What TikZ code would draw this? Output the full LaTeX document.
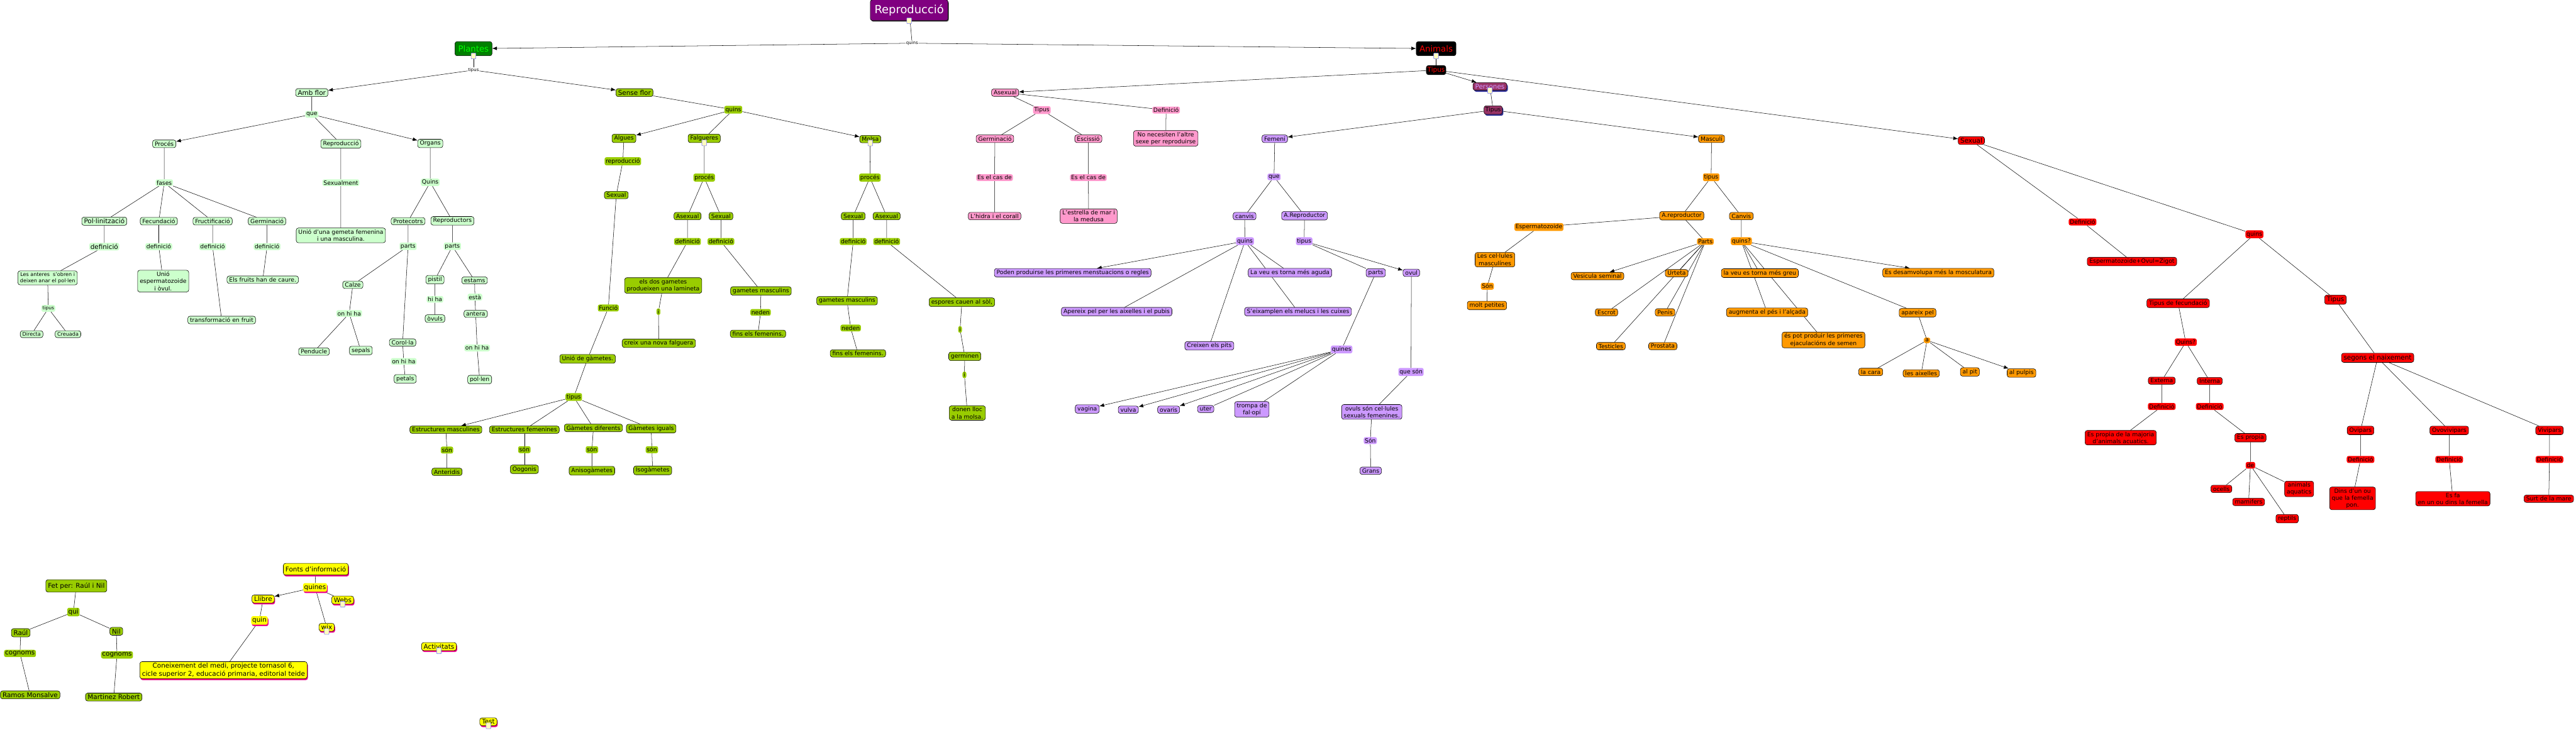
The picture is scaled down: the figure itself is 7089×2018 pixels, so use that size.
\documentclass[tikz,border=0pt]{standalone}
\usepackage{fontspec}
\setmainfont{DejaVu Sans}
\usetikzlibrary{arrows.meta,backgrounds,shadows}

\definecolor{cmgreen}{HTML}{CCFFCC}
\definecolor{cmolive}{HTML}{99CC00}
\definecolor{cmpink}{HTML}{FF99CC}
\definecolor{cmlilac}{HTML}{CC99FF}
\definecolor{cmorange}{HTML}{FF9900}
\definecolor{cmred}{HTML}{FF0000}
\definecolor{cmyellow}{HTML}{FFFF00}
\definecolor{cmplant}{HTML}{008000}
\definecolor{cmplanttext}{HTML}{00FF00}
\definecolor{cmmaroon}{HTML}{993366}
\definecolor{cmnavy}{HTML}{333399}
\definecolor{cmpurple}{HTML}{800080}

\begin{document}
\begin{tikzpicture}[
    x=1pt, y=-1pt,
    >={Latex[length=13pt,width=10pt]},
    concept/.style={
        rectangle,
        rounded corners=6pt,
        draw=black,
        line width=1pt,
        fill=#1,
        inner xsep=6pt,
        inner ysep=4pt,
        font=\fontsize{16}{19.5}\selectfont,
        align=center
    },
    phrase/.style={
        rectangle,
        rounded corners=5pt,
        fill=#1,
        inner xsep=3pt,
        inner ysep=3pt,
        font=\fontsize{16}{19.5}\selectfont
    },
    plain/.style={
        fill=white,
        inner sep=1pt,
        font=\fontsize{12}{14}\selectfont
    },
    big/.style={font=\fontsize{18}{21.5}\selectfont},
    small/.style={font=\fontsize{14}{17}\selectfont},
    pinkshadow/.style={drop shadow={fill=magenta,opacity=1,shadow xshift=2pt,shadow yshift=-4pt}},
    navyshadow/.style={drop shadow={fill=cmnavy,opacity=1,shadow xshift=3pt,shadow yshift=-4pt}},
    docicon/.style={
        rectangle,
        rounded corners=1.5pt,
        draw=blue!55,
        line width=1pt,
        fill=yellow!25,
        minimum width=13pt,
        minimum height=16pt,
        inner sep=0pt
    },
    link/.style={line width=0.9pt},
    flow/.style={->,line width=0.9pt}
]
\useasboundingbox (0,0) rectangle (7089,2018);

% Root and first split
\node[concept=cmpurple, text=white, font=\fontsize{31}{36}\selectfont, minimum width=214pt, minimum height=57pt,
      drop shadow={fill=black!75,opacity=1,shadow xshift=2pt,shadow yshift=-3pt}] (repro) at (2502,28) {Reproducció};
\node[plain] (q0) at (2510,119) {quins};
\node[concept=cmplant, text=cmplanttext, font=\fontsize{23}{27}\selectfont, inner xsep=9pt, minimum height=39pt] (plantes) at (1303,134) {Plantes};
\node[concept=black, text=cmred, font=\fontsize{23}{27}\selectfont, inner xsep=9pt, minimum height=39pt] (animals) at (3952,134) {Animals};
\node[plain] (t0) at (1303,193) {tipus};

% Plants with flower
\node[concept=cmgreen, big] (ambflor) at (858,255) {Amb flor};
\node[phrase=cmgreen] (que1) at (858,315) {que};
\node[concept=cmgreen] (proces) at (452,396) {Procés};
\node[concept=cmgreen] (reprod) at (938,396) {Reproducció};
\node[concept=cmgreen] (organs) at (1184,395) {Organs};
\node[phrase=cmgreen] (fases) at (452,503) {fases};
\node[phrase=cmgreen] (sexualment) at (938,503) {Sexualment};
\node[phrase=cmgreen] (quinsO) at (1184,502) {Quins};
\node[concept=cmgreen, big] (pollin) at (287,609) {Pol·linització};
\node[concept=cmgreen] (fecund) at (437,609) {Fecundació};
\node[concept=cmgreen] (fruct) at (585,609) {Fructificació};
\node[concept=cmgreen] (germ) at (735,609) {Germinació};
\node[concept=cmgreen] (unio1) at (938,648) {Unió d'una gemeta femenina\\i una masculina.};
\node[concept=cmgreen] (protec) at (1123,609) {Protecotrs};
\node[concept=cmgreen] (reprods) at (1245,608) {Reproductors};
\node[phrase=cmgreen, big] (def1) at (287,679) {definició};
\node[phrase=cmgreen] (def2) at (437,679) {definició};
\node[phrase=cmgreen] (def3) at (585,679) {definició};
\node[phrase=cmgreen] (def4) at (735,679) {definició};
\node[phrase=cmgreen] (partsP) at (1123,678) {parts};
\node[phrase=cmgreen] (partsR) at (1245,678) {parts};
\node[concept=cmgreen, small] (anteres) at (131,765) {Les anteres\ \ s'obren i\\deixen anar el pol·len};
\node[concept=cmgreen] (unio2) at (449,774) {Unió\\espermatozoide\\i òvul.};
\node[concept=cmgreen] (fruits) at (723,770) {Els fruits han de caure.};
\node[concept=cmgreen] (calze) at (971,784) {Calze};
\node[concept=cmgreen] (pistil) at (1197,770) {pistil};
\node[concept=cmgreen] (estams) at (1306,772) {estams};
\node[phrase=cmgreen, font=\fontsize{13}{15}\selectfont] (tipusP) at (133,849) {tipus};
\node[concept=cmgreen] (transf) at (610,881) {transformació en fruit};
\node[phrase=cmgreen] (onhiha1) at (961,863) {on hi ha};
\node[phrase=cmgreen] (hiha) at (1197,824) {hi ha};
\node[phrase=cmgreen] (esta) at (1307,818) {està};
\node[concept=cmgreen] (ovuls) at (1197,877) {òvuls};
\node[concept=cmgreen] (antera) at (1309,864) {antera};
\node[concept=cmgreen, small] (directa) at (87,920) {Directa};
\node[concept=cmgreen, small] (creuada) at (187,920) {Creuada};
\node[concept=cmgreen] (penducle) at (864,968) {Penducle};
\node[concept=cmgreen] (sepals) at (993,965) {sepals};
\node[concept=cmgreen] (corolla) at (1108,943) {Corol·la};
\node[phrase=cmgreen] (onhiha2) at (1111,995) {on hi ha};
\node[concept=cmgreen] (petals) at (1115,1043) {petals};
\node[phrase=cmgreen] (onhiha3) at (1313,958) {on hi ha};
\node[concept=cmgreen] (pollen) at (1320,1045) {pol·len};

% Plants without flower
\node[concept=cmolive, big] (senseflor) at (1746,255) {Sense flor};
\node[phrase=cmolive] (quinsS) at (2018,302) {quins};
\node[concept=cmolive] (algues) at (1717,381) {Algues};
\node[concept=cmolive] (falg) at (1938,381) {Falgueres};
\node[concept=cmolive] (molsa) at (2395,383) {Molsa};
\node[phrase=cmolive] (reprA) at (1714,444) {reproducció};
\node[phrase=cmolive] (procF) at (1938,489) {procés};
\node[phrase=cmolive] (procM) at (2394,489) {procés};
\node[concept=cmolive] (sexA) at (1696,537) {Sexual};
\node[concept=cmolive] (asexF) at (1892,595) {Asexual};
\node[concept=cmolive] (sexF) at (1984,595) {Sexual};
\node[concept=cmolive] (sexM) at (2348,595) {Sexual};
\node[concept=cmolive] (asexM) at (2440,595) {Asexual};
\node[phrase=cmolive] (defF1) at (1892,665) {definició};
\node[phrase=cmolive] (defF2) at (1984,665) {definició};
\node[phrase=cmolive] (defM1) at (2348,665) {definició};
\node[phrase=cmolive] (defM2) at (2440,665) {definició};
\node[concept=cmolive] (dosgam) at (1825,786) {els dos gametes\\produeixen una lamineta};
\node[concept=cmolive] (gamF) at (2094,801) {gametes masculins};
\node[concept=cmolive] (gamM) at (2331,828) {gametes masculins};
\node[concept=cmolive] (espores) at (2647,832) {espores cauen al sòl,};
\node[phrase=cmolive] (funcio) at (1674,848) {Funció};
\node[phrase=cmolive] (iF) at (1812,858) {i};
\node[phrase=cmolive] (nedenF) at (2093,860) {neden};
\node[phrase=cmolive] (nedenM) at (2341,903) {neden};
\node[phrase=cmolive] (iM1) at (2642,907) {i};
\node[concept=cmolive] (finsF) at (2086,919) {fins els femenins.};
\node[concept=cmolive] (creix) at (1813,945) {creix una nova falguera};
\node[concept=cmolive] (finsM) at (2361,973) {fins els femenins.};
\node[concept=cmolive] (germinen) at (2655,981) {germinen};
\node[concept=cmolive] (uniogam) at (1617,988) {Unió de gàmetes.};
\node[phrase=cmolive] (iM2) at (2654,1032) {i};
\node[phrase=cmolive] (tipusA) at (1579,1093) {tipus};
\node[concept=cmolive] (donen) at (2662,1137) {donen lloc\\a la molsa.};
\node[concept=cmolive] (estmasc) at (1227,1183) {Estructures masculines};
\node[concept=cmolive] (estfem) at (1443,1183) {Estructures femenines};
\node[concept=cmolive] (gamdif) at (1633,1178) {Gàmetes diferents};
\node[concept=cmolive] (gamig) at (1792,1180) {Gàmetes iguals};
\node[phrase=cmolive] (son1) at (1230,1239) {són};
\node[phrase=cmolive] (son2) at (1443,1238) {són};
\node[phrase=cmolive] (son3) at (1629,1238) {són};
\node[phrase=cmolive] (son4) at (1794,1238) {són};
\node[concept=cmolive] (anteridis) at (1230,1299) {Anteridis};
\node[concept=cmolive] (oogonis) at (1443,1292) {Oogonis};
\node[concept=cmolive] (aniso) at (1629,1296) {Anisogàmetes};
\node[concept=cmolive] (iso) at (1796,1295) {Isogàmetes};

% Animals: asexual
\node[concept=black, text=cmred, big, inner xsep=3pt] (tipusAn) at (3952,193) {Tipus};
\node[concept=cmpink] (asexual) at (2766,255) {Asexual};
\node[phrase=cmpink] (tipusAs) at (2867,303) {Tipus};
\node[phrase=cmpink] (defAs) at (3209,303) {Definició};
\node[concept=cmpink] (germA) at (2738,382) {Germinació};
\node[concept=cmpink] (esciss) at (2995,382) {Escissió};
\node[concept=cmpink] (nonec) at (3208,381) {No necesiten l'altre\\sexe per reproduirse};
\node[phrase=cmpink] (cas1) at (2737,489) {Es el cas de};
\node[phrase=cmpink] (cas2) at (2995,489) {Es el cas de};
\node[concept=cmpink] (hidra) at (2737,595) {L'hidra i el corall};
\node[concept=cmpink] (estrella) at (2996,595) {L'estrella de mar i\\la medusa};

% Persons
\node[concept=cmmaroon, text=cmlilac, big, navyshadow] (persones) at (4100,238) {Persones};
\node[concept=cmmaroon, navyshadow, inner xsep=4pt] (tipusPe) at (4109,303) {Tipus};

% Female
\node[concept=cmlilac] (femeni) at (3508,382) {Femení};
\node[phrase=cmlilac] (queF) at (3506,487) {que};
\node[concept=cmlilac] (canvisF) at (3425,595) {canvis};
\node[concept=cmlilac] (arepF) at (3590,594) {A.Reproductor};
\node[phrase=cmlilac] (quinsF) at (3426,664) {quins};
\node[phrase=cmlilac] (tipusF) at (3589,664) {tipus};
\node[concept=cmlilac] (poden) at (2952,751) {Poden produirse les primeres menstuacions o regles};
\node[concept=cmlilac] (laveuF) at (3550,751) {La veu es torna més aguda};
\node[concept=cmlilac] (partsF) at (3786,751) {parts};
\node[concept=cmlilac] (ovul) at (3884,751) {ovul};
\node[concept=cmlilac] (apereix) at (3073,858) {Apereix pel per les aixelles i el pubis};
\node[concept=cmlilac] (eixamplen) at (3572,858) {S'eixamplen els melucs i les cuixes};
\node[concept=cmlilac] (pits) at (3328,952) {Creixen els pits};
\node[phrase=cmlilac] (quinesF) at (3692,962) {quines};
\node[phrase=cmlilac] (queson) at (3883,1024) {que són};
\node[concept=cmlilac] (vagina) at (2992,1126) {vagina};
\node[concept=cmlilac] (vulva) at (3105,1128) {vulva};
\node[concept=cmlilac] (ovaris) at (3216,1128) {ovaris};
\node[concept=cmlilac] (uter) at (3318,1126) {uter};
\node[concept=cmlilac] (trompa) at (3445,1127) {trompa de\\fal·opí};
\node[concept=cmlilac] (ovulsson) at (3775,1134) {ovuls són cel·lules\\sexuals femenines.};
\node[phrase=cmlilac] (sonF) at (3771,1213) {Són};
\node[concept=cmlilac] (grans) at (3772,1296) {Grans};

% Male
\node[concept=cmorange] (masculi) at (4710,382) {Masculí};
\node[phrase=cmorange] (tipusM) at (4709,488) {tipus};
\node[concept=cmorange] (arepM) at (4628,594) {A.reproductor};
\node[concept=cmorange] (canvisM) at (4792,595) {Canvis};
\node[phrase=cmorange] (esperm) at (4235,625) {Espermatozoide};
\node[phrase=cmorange] (partsM) at (4693,665) {Parts};
\node[phrase=cmorange] (quinsM) at (4792,664) {quins?};
\node[concept=cmorange] (celM) at (4114,715) {Les cel·lules\\masculínes};
\node[concept=cmorange] (vesic) at (4396,760) {Vesicula seminal};
\node[concept=cmorange] (urteta) at (4614,752) {Urteta};
\node[concept=cmorange] (laveuM) at (4843,752) {la veu es torna més greu};
\node[phrase=cmorange] (sonM) at (4093,788) {Són};
\node[concept=cmorange] (petites) at (4092,841) {molt petites};
\node[concept=cmorange] (escrot) at (4421,860) {Escrot};
\node[concept=cmorange] (penis) at (4582,860) {Penis};
\node[concept=cmorange] (augmenta) at (4863,860) {augmenta el pés i l'alçada};
\node[concept=cmorange] (testicles) at (4433,953) {Testicles};
\node[concept=cmorange] (prostata) at (4576,953) {Prostata};
\node[concept=cmorange] (ejac) at (5018,936) {és pot produir les primeres\\ejaculacións de semen};
\node[concept=cmorange] (desamv) at (5334,751) {Es desamvolupa més la mosculatura};
\node[concept=cmorange] (apareix) at (5277,861) {apareix pel};
\node[phrase=cmorange, inner xsep=4pt] (aM) at (5303,937) {a};
\node[concept=cmorange] (cara) at (5148,1024) {la cara};
\node[concept=cmorange] (aixelles) at (5287,1028) {les aixelles};
\node[concept=cmorange] (pit) at (5421,1024) {al pit};
\node[concept=cmorange] (pulpis) at (5563,1027) {al pulpis};

% Animals: sexual
\node[concept=cmred, big] (sexual) at (5425,387) {Sexual};
\node[phrase=cmred] (defS) at (5731,611) {Definició};
\node[concept=cmred] (zigot) at (5867,720) {Espermatozoide+Ovul=Zigot};
\node[phrase=cmred] (quinsS2) at (6204,645) {quins};
\node[concept=cmred] (tipfec) at (5994,835) {Tipus de fecundació};
\node[phrase=cmred] (quinsFec) at (6015,942) {Quins?};
\node[concept=cmred] (externa) at (5949,1048) {Externa};
\node[concept=cmred] (interna) at (6081,1049) {Interna};
\node[phrase=cmred] (defE) at (5949,1119) {Definició};
\node[phrase=cmred] (defI) at (6081,1119) {Definició};
\node[concept=cmred] (propiaE) at (5836,1205) {Es propia de la majoria\\d'animals acuatics.};
\node[concept=cmred] (propiaI) at (6193,1205) {Es propia};
\node[phrase=cmred] (de) at (6193,1281) {de};
\node[concept=cmred] (ocells) at (6113,1346) {ocells};
\node[concept=cmred] (mamif) at (6188,1382) {mamifers};
\node[concept=cmred] (aquat) at (6327,1346) {animals\\aquatics};
\node[concept=cmred] (reptils) at (6294,1428) {reptils};
\node[concept=cmred, big] (tipusR) at (6427,825) {Tipus};
\node[concept=cmred, big] (segons) at (6543,985) {segons el naixement};
\node[concept=cmred] (ovip) at (6496,1185) {Ovipars};
\node[concept=cmred] (ovov) at (6740,1185) {Ovovivipars};
\node[concept=cmred] (vivip) at (7016,1185) {Vivipars};
\node[phrase=cmred] (defO1) at (6496,1265) {Definició};
\node[phrase=cmred] (defO2) at (6740,1265) {Definició};
\node[phrase=cmred] (defO3) at (7016,1265) {Definició};
\node[concept=cmred] (dins) at (6474,1372) {Dins d'un ou\\que la femella\\pon.};
\node[concept=cmred] (esfa) at (6750,1373) {Es fa\\en un ou dins la femella};
\node[concept=cmred] (surt) at (7014,1373) {Surt de la mare};

% Authors
\node[concept=cmolive, big, minimum height=34pt] (fetper) at (210,1613) {Fet per: Raúl i Nil};
\node[phrase=cmolive, big] (qui) at (202,1685) {qui};
\node[concept=cmolive, big] (raul) at (57,1742) {Raúl};
\node[concept=cmolive, big] (nil) at (320,1738) {Nil};
\node[phrase=cmolive, big] (cog1) at (55,1799) {cognoms};
\node[phrase=cmolive, big] (cog2) at (322,1803) {cognoms};
\node[concept=cmolive, big] (ramos) at (83,1913) {Ramos Monsalve};
\node[concept=cmolive, big] (martinez) at (313,1919) {Martinez Robert};

% Sources
\node[concept=cmyellow, big, pinkshadow, minimum height=32pt] (fonts) at (869,1567) {Fonts d'informació};
\node[phrase=cmyellow, big, pinkshadow] (quinesY) at (867,1617) {quines};
\node[concept=cmyellow, big, pinkshadow] (llibre) at (724,1649) {Llibre};
\node[concept=cmyellow, big, pinkshadow] (webs) at (943,1652) {Webs};
\node[phrase=cmyellow, big, pinkshadow] (quinY) at (714,1708) {quin};
\node[concept=cmyellow, big, pinkshadow] (wix) at (899,1727) {wix};
\node[concept=cmyellow, big, pinkshadow] (conei) at (615,1845) {Coneixement del medi, projecte tornasol 6,\\cicle superior 2, educació primaria, editorial teide};
\node[concept=cmyellow, big, pinkshadow] (activ) at (1208,1780) {Activitats};
\node[concept=cmyellow, big, pinkshadow] (test) at (1344,1987) {Test};

% Resource icons
\node[docicon] (repro-icon) at (repro.south) {};
\node[docicon] (plantes-icon) at (plantes.south) {};
\node[docicon] (animals-icon) at (animals.south) {};
\node[docicon] (persones-icon) at (persones.south) {};
\node[docicon] (falg-icon) at (falg.south) {};
\node[docicon] (molsa-icon) at (molsa.south) {};
\node[docicon] (webs-icon) at (webs.south) {};
\node[docicon] (wix-icon) at (wix.south) {};
\node[docicon] (activ-icon) at (activ.south) {};
\node[docicon] (test-icon) at (test.south) {};

\begin{scope}[on background layer]
% Root links
\draw[link] (repro) -- (q0);
\draw[flow] (q0) -- (plantes);
\draw[flow] (q0) -- (animals);
\draw[link] (plantes) -- (t0);
\draw[flow] (t0) -- (ambflor);
\draw[flow] (t0) -- (senseflor);

% With flower
\draw[link] (ambflor) -- (que1) -- (reprod) -- (sexualment) -- (unio1);
\draw[flow] (que1) -- (proces);
\draw[flow] (que1) -- (organs);
\draw[link] (proces) -- (fases) -- (pollin) -- (def1) -- (anteres) -- (tipusP) -- (directa);
\draw[link] (tipusP) -- (creuada);
\draw[link] (fases) -- (fecund) -- (def2) -- (unio2);
\draw[link] (fases) -- (fruct) -- (def3) -- (transf);
\draw[link] (fases) -- (germ) -- (def4) -- (fruits);
\draw[link] (organs) -- (quinsO) -- (protec) -- (partsP) -- (calze) -- (onhiha1) -- (penducle);
\draw[link] (onhiha1) -- (sepals);
\draw[link] (partsP) -- (corolla) -- (onhiha2) -- (petals);
\draw[link] (quinsO) -- (reprods) -- (partsR) -- (pistil) -- (hiha) -- (ovuls);
\draw[link] (partsR) -- (estams) -- (esta) -- (antera) -- (onhiha3) -- (pollen);

% Without flower
\draw[link] (senseflor) -- (quinsS) -- (falg);
\draw[flow] (quinsS) -- (algues);
\draw[flow] (quinsS) -- (molsa);
\draw[link] (algues) -- (reprA) -- (sexA) -- (funcio) -- (uniogam) -- (tipusA);
\draw[flow] (tipusA) -- (estmasc);
\draw[link] (tipusA) -- (estfem);
\draw[link] (tipusA) -- (gamdif);
\draw[link] (tipusA) -- (gamig);
\draw[link] (estmasc) -- (son1) -- (anteridis);
\draw[link] (estfem) -- (son2) -- (oogonis);
\draw[link] (gamdif) -- (son3) -- (aniso);
\draw[link] (gamig) -- (son4) -- (iso);
\draw[link] (falg) -- (procF) -- (asexF) -- (defF1) -- (dosgam) -- (iF) -- (creix);
\draw[link] (procF) -- (sexF) -- (defF2) -- (gamF) -- (nedenF) -- (finsF);
\draw[link] (molsa) -- (procM) -- (sexM) -- (defM1) -- (gamM) -- (nedenM) -- (finsM);
\draw[link] (procM) -- (asexM) -- (defM2) -- (espores) -- (iM1) -- (germinen) -- (iM2) -- (donen);

% Animals
\draw[link] (animals) -- (tipusAn);
\draw[flow] (tipusAn) -- (asexual);
\draw[flow] (tipusAn) -- (persones);
\draw[flow] (tipusAn) -- (sexual);
\draw[link] (asexual) -- (tipusAs) -- (germA) -- (cas1) -- (hidra);
\draw[link] (tipusAs) -- (esciss) -- (cas2) -- (estrella);
\draw[link] (asexual) -- (defAs) -- (nonec);
\draw[link] (persones) -- (tipusPe);
\draw[flow] (tipusPe) -- (femeni);
\draw[flow] (tipusPe) -- (masculi);

% Female links
\draw[link] (femeni) -- (queF) -- (canvisF) -- (quinsF);
\draw[link] (queF) -- (arepF) -- (tipusF) -- (partsF) -- (quinesF);
\draw[flow] (quinsF) -- (poden);
\draw[link] (quinsF) -- (apereix);
\draw[link] (quinsF) -- (pits);
\draw[link] (quinsF) -- (laveuF);
\draw[link] (quinsF) -- (eixamplen);
\draw[flow] (tipusF) -- (ovul);
\draw[flow] (quinesF) -- (vagina);
\draw[flow] (quinesF) -- (vulva);
\draw[flow] (quinesF) -- (ovaris);
\draw[link] (quinesF) -- (uter);
\draw[link] (quinesF) -- (trompa);
\draw[link] (ovul) -- (queson) -- (ovulsson) -- (sonF) -- (grans);

% Male links
\draw[link] (masculi) -- (tipusM) -- (arepM) -- (esperm) -- (celM) -- (sonM) -- (petites);
\draw[link] (arepM) -- (partsM);
\draw[link] (tipusM) -- (canvisM) -- (quinsM);
\draw[flow] (partsM) -- (vesic);
\draw[link] (partsM) -- (urteta);
\draw[link] (partsM) -- (escrot);
\draw[link] (partsM) -- (penis);
\draw[link] (partsM) -- (testicles);
\draw[link] (partsM) -- (prostata);
\draw[link] (quinsM) -- (laveuM);
\draw[link] (quinsM) -- (augmenta);
\draw[link] (quinsM) -- (ejac);
\draw[flow] (quinsM) -- (desamv);
\draw[link] (quinsM) -- (apareix) -- (aM) -- (cara);
\draw[link] (aM) -- (aixelles);
\draw[link] (aM) -- (pit);
\draw[flow] (aM) -- (pulpis);

% Sexual links
\draw[link] (sexual) -- (defS) -- (zigot);
\draw[link] (sexual) -- (quinsS2) -- (tipfec) -- (quinsFec) -- (externa) -- (defE) -- (propiaE);
\draw[link] (quinsFec) -- (interna) -- (defI) -- (propiaI) -- (de) -- (ocells);
\draw[link] (de) -- (mamif);
\draw[link] (de) -- (aquat);
\draw[link] (de) -- (reptils);
\draw[link] (quinsS2) -- (tipusR) -- (segons) -- (ovip) -- (defO1) -- (dins);
\draw[link] (segons) -- (ovov) -- (defO2) -- (esfa);
\draw[link] (segons) -- (vivip) -- (defO3) -- (surt);

% Authors and sources
\draw[link] (fetper) -- (qui) -- (raul) -- (cog1) -- (ramos);
\draw[link] (qui) -- (nil) -- (cog2) -- (martinez);
\draw[link] (fonts) -- (quinesY) -- (webs);
\draw[link] (quinesY) -- (wix);
\draw[flow] (quinesY) -- (llibre);
\draw[link] (llibre) -- (quinY) -- (conei);
\end{scope}

\end{tikzpicture}
\end{document}
